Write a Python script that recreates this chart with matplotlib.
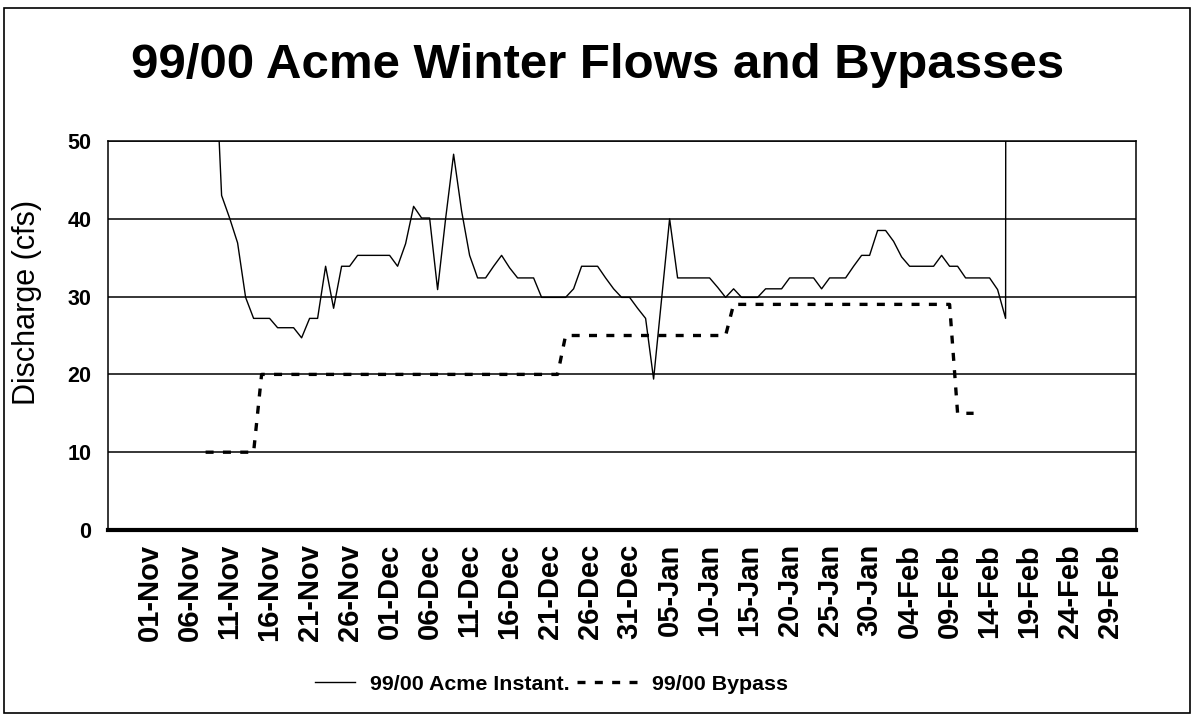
import matplotlib
matplotlib.use("Agg")
import matplotlib.pyplot as plt
import matplotlib.dates as mdates
from matplotlib.lines import Line2D
from matplotlib.patches import Rectangle
import pandas as pd

plt.rcParams['font.family'] = ['Liberation Sans', 'DejaVu Sans']

# ---- data (daily values) ----
flow_start = "1999-11-09"
flow_values = [66, 43.0, 40.1, 36.9, 29.9, 27.2, 27.2, 27.2, 26.0, 26.0,
               26.0, 24.7, 27.2, 27.2, 33.9, 28.5, 33.9, 33.9, 35.3, 35.3,
               35.3, 35.3, 35.3, 33.9, 36.8, 41.6, 40.1, 40.1, 30.9, 40.0,
               48.3, 41.0, 35.3, 32.4, 32.4, 33.9, 35.3, 33.7, 32.4, 32.4,
               32.4, 29.9, 29.9, 29.9, 29.9, 31.0, 33.9, 33.9, 33.9, 32.4,
               31.0, 29.9, 29.9, 28.5, 27.2, 19.4, 29.7, 40.0, 32.4, 32.4,
               32.4, 32.4, 32.4, 31.2, 29.9, 31.0, 29.9, 29.9, 29.9, 31.0,
               31.0, 31.0, 32.4, 32.4, 32.4, 32.4, 31.0, 32.4, 32.4, 32.4,
               33.9, 35.3, 35.3, 38.5, 38.5, 37.1, 35.1, 33.9, 33.9, 33.9,
               33.9, 35.3, 33.9, 33.9, 32.4, 32.4, 32.4, 32.4, 30.9, 27.2,
               1500]

bypass_start = "1999-11-08"
bypass_values = [10, 10, 10, 10, 10, 10, 10,
                 20, 20, 20, 20, 20, 20, 20, 20, 20, 20,
                 20, 20, 20, 20, 20, 20, 20, 20, 20, 20,
                 20, 20, 20, 20, 20, 20, 20, 20, 20, 20,
                 20, 20, 20, 20, 20, 20, 20, 20,
                 25, 25, 25, 25, 25, 25, 25, 25, 25, 25,
                 25, 25, 25, 25, 25, 25, 25, 25, 25, 25, 25,
                 29, 29, 29, 29, 29, 29, 29, 29, 29, 29,
                 29, 29, 29, 29, 29, 29, 29, 29, 29, 29,
                 29, 29, 29, 29, 29, 29, 29, 29,
                 15, 15, 15]

tick_start, tick_end = "1999-11-01", "2000-02-29"
y_ticks = [0, 10, 20, 30, 40, 50]

title = "99/00 Acme Winter Flows and Bypasses"
ylabel = "Discharge (cfs)"
flow_label = "99/00 Acme Instant."
bypass_label = "99/00 Bypass"

# ---- build ----
flow_dates = pd.date_range(flow_start, periods=len(flow_values), freq="D")
bypass_dates = pd.date_range(bypass_start, periods=len(bypass_values), freq="D")
tick_dates = pd.date_range(tick_start, tick_end, freq="5D")

W, H = 1195, 716
fig = plt.figure(figsize=(W / 100, H / 100), dpi=100)
fig.patch.set_facecolor("white")

# outer chart border
fig.patches.append(Rectangle((4 / W, 1 - 713 / H), 1186 / W, 705 / H,
                             transform=fig.transFigure, fill=False,
                             edgecolor="black", linewidth=1.2))

L, R, T, B = 108, 1136, 141, 530
ax = fig.add_axes([L / W, 1 - B / H, (R - L) / W, (B - T) / H])

DASH = (0, (2.4, 2.8))
ax.plot(flow_dates, flow_values, color="black", linewidth=1.0, zorder=3)
ax.plot(bypass_dates, bypass_values, color="black", linewidth=2.4,
        linestyle=DASH, dash_capstyle="butt", zorder=3)

t0 = mdates.date2num(pd.Timestamp(tick_start))
ax.set_xlim(t0 - 5.2, t0 + 123.3)
ax.set_ylim(0, 50)
ax.set_yticks(y_ticks)
ax.set_xticks(tick_dates)
ax.set_xticklabels([d.strftime("%d-%b") for d in tick_dates],
                   rotation=90, fontsize=21, fontweight="bold")
ax.tick_params(axis="both", length=0)
ax.tick_params(axis="x", pad=10)
ax.tick_params(axis="y", pad=12)
for lab in ax.get_yticklabels():
    lab.set_fontsize(15.5)
    lab.set_fontweight("bold")

ax.grid(axis="y", color="black", linewidth=1.1, zorder=1)
for s in ax.spines.values():
    s.set_color("black")
    s.set_linewidth(1.1)
ax.spines["bottom"].set_linewidth(3.0)

ax.set_ylabel(ylabel, fontsize=22)
ax.yaxis.set_label_coords(-0.064, 0.585)

fig.text(0.5, 1 - 66 / H, title, ha="center", va="center",
         fontsize=35.5, fontweight="bold")

FS = 15.4
px_per_em = FS * 100 / 72
leg1 = fig.legend([Line2D([], [], color="black", linewidth=1.0)], [flow_label],
                  loc="center left", bbox_to_anchor=(315 / W, 1 - 684 / H),
                  frameon=False, prop={"size": FS, "weight": "bold"},
                  handlelength=40 / px_per_em, handletextpad=15 / px_per_em,
                  borderpad=0, borderaxespad=0)
leg2 = fig.legend([Line2D([], [], color="black", linewidth=2.4, linestyle=DASH)],
                  [bypass_label],
                  loc="center left", bbox_to_anchor=(577 / W, 1 - 684 / H),
                  frameon=False, prop={"size": FS, "weight": "bold"},
                  handlelength=63 / px_per_em, handletextpad=12 / px_per_em,
                  borderpad=0, borderaxespad=0)

fig.savefig("out.png", dpi=100, facecolor="white")
